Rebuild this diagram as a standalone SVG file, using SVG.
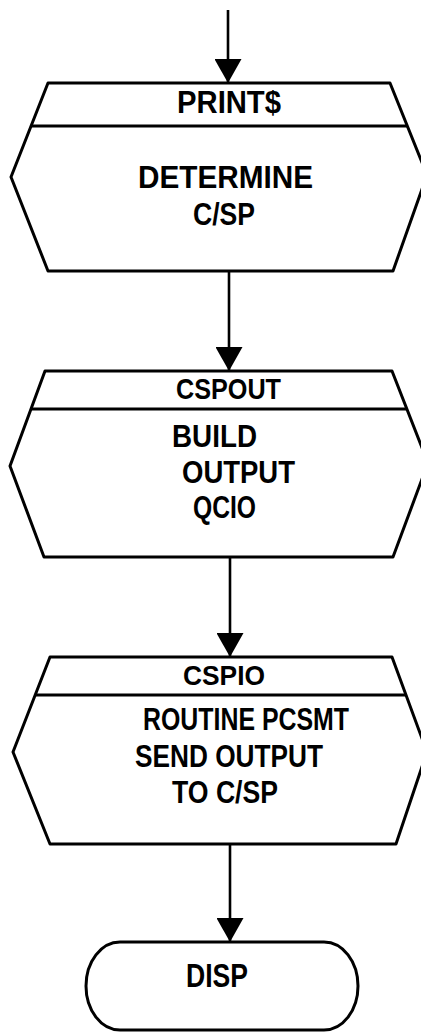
<svg xmlns="http://www.w3.org/2000/svg" width="421" height="1034" viewBox="0 0 421 1034">
<style>
.shape{fill:#fff;stroke:#000;stroke-width:3;stroke-linejoin:round}
.div{stroke:#000;stroke-width:3;fill:none}
.edge{stroke:#000;stroke-width:2.6;fill:none}
.t{font-family:"Liberation Sans",Arial,sans-serif;font-weight:bold;font-size:32px;fill:#000}
</style>
<defs>
<marker id="ah" markerUnits="userSpaceOnUse" markerWidth="24" markerHeight="27" refX="24" refY="13.5" orient="auto" viewBox="0 0 24 27">
<path d="M0,0 L24,13.5 L0,27 Z" fill="#000"/>
</marker>
</defs>
<rect width="421" height="1034" fill="#fff"/>
<g id="connectors">
<line class="edge" x1="228" y1="10" x2="228" y2="83" marker-end="url(#ah)"/>
<line class="edge" x1="229" y1="271" x2="229" y2="371" marker-end="url(#ah)"/>
<line class="edge" x1="230" y1="557" x2="230" y2="657" marker-end="url(#ah)"/>
<line class="edge" x1="230" y1="844" x2="230" y2="942" marker-end="url(#ah)"/>
</g>
<g id="node-prints">
<polygon class="shape" points="48,83 390,83 427,175 393,271 48,271 11,177"/>
<line class="div" x1="31" y1="126" x2="407" y2="126"/>
<text class="t" x="177" y="113" textLength="104" lengthAdjust="spacingAndGlyphs">PRINT$</text>
<text class="t" x="138" y="188" textLength="175" lengthAdjust="spacingAndGlyphs">DETERMINE</text>
<text class="t" x="193" y="225" textLength="62" lengthAdjust="spacingAndGlyphs">C/SP</text>
</g>
<g id="node-cspout">
<polygon class="shape" points="45,371 392,371 428,463 393,557 44,557 10,466"/>
<line class="div" x1="31" y1="409" x2="407" y2="409"/>
<text class="t" x="176" y="399" textLength="105" lengthAdjust="spacingAndGlyphs" style="font-size:30px">CSPOUT</text>
<text class="t" x="172" y="447" textLength="85" lengthAdjust="spacingAndGlyphs">BUILD</text>
<text class="t" x="182" y="483" textLength="113" lengthAdjust="spacingAndGlyphs">OUTPUT</text>
<text class="t" x="193" y="518" textLength="63" lengthAdjust="spacingAndGlyphs">QCIO</text>
</g>
<g id="node-cspio">
<polygon class="shape" points="50,657 392,657 427,752 396,844 50,844 13,752"/>
<line class="div" x1="35" y1="695" x2="406" y2="695"/>
<text class="t" x="183" y="685" textLength="82" lengthAdjust="spacingAndGlyphs" style="font-size:28px">CSPIO</text>
<text class="t" x="143" y="730" textLength="206" lengthAdjust="spacingAndGlyphs">ROUTINE PCSMT</text>
<text class="t" x="135" y="767" textLength="188" lengthAdjust="spacingAndGlyphs">SEND OUTPUT</text>
<text class="t" x="172" y="803" textLength="106" lengthAdjust="spacingAndGlyphs">TO C/SP</text>
</g>
<g id="node-disp">
<rect class="shape" x="86" y="942" width="272" height="88" rx="34" ry="44"/>
<text class="t" x="186" y="987" textLength="62" lengthAdjust="spacingAndGlyphs" style="font-size:33px">DISP</text>
</g>
</svg>
